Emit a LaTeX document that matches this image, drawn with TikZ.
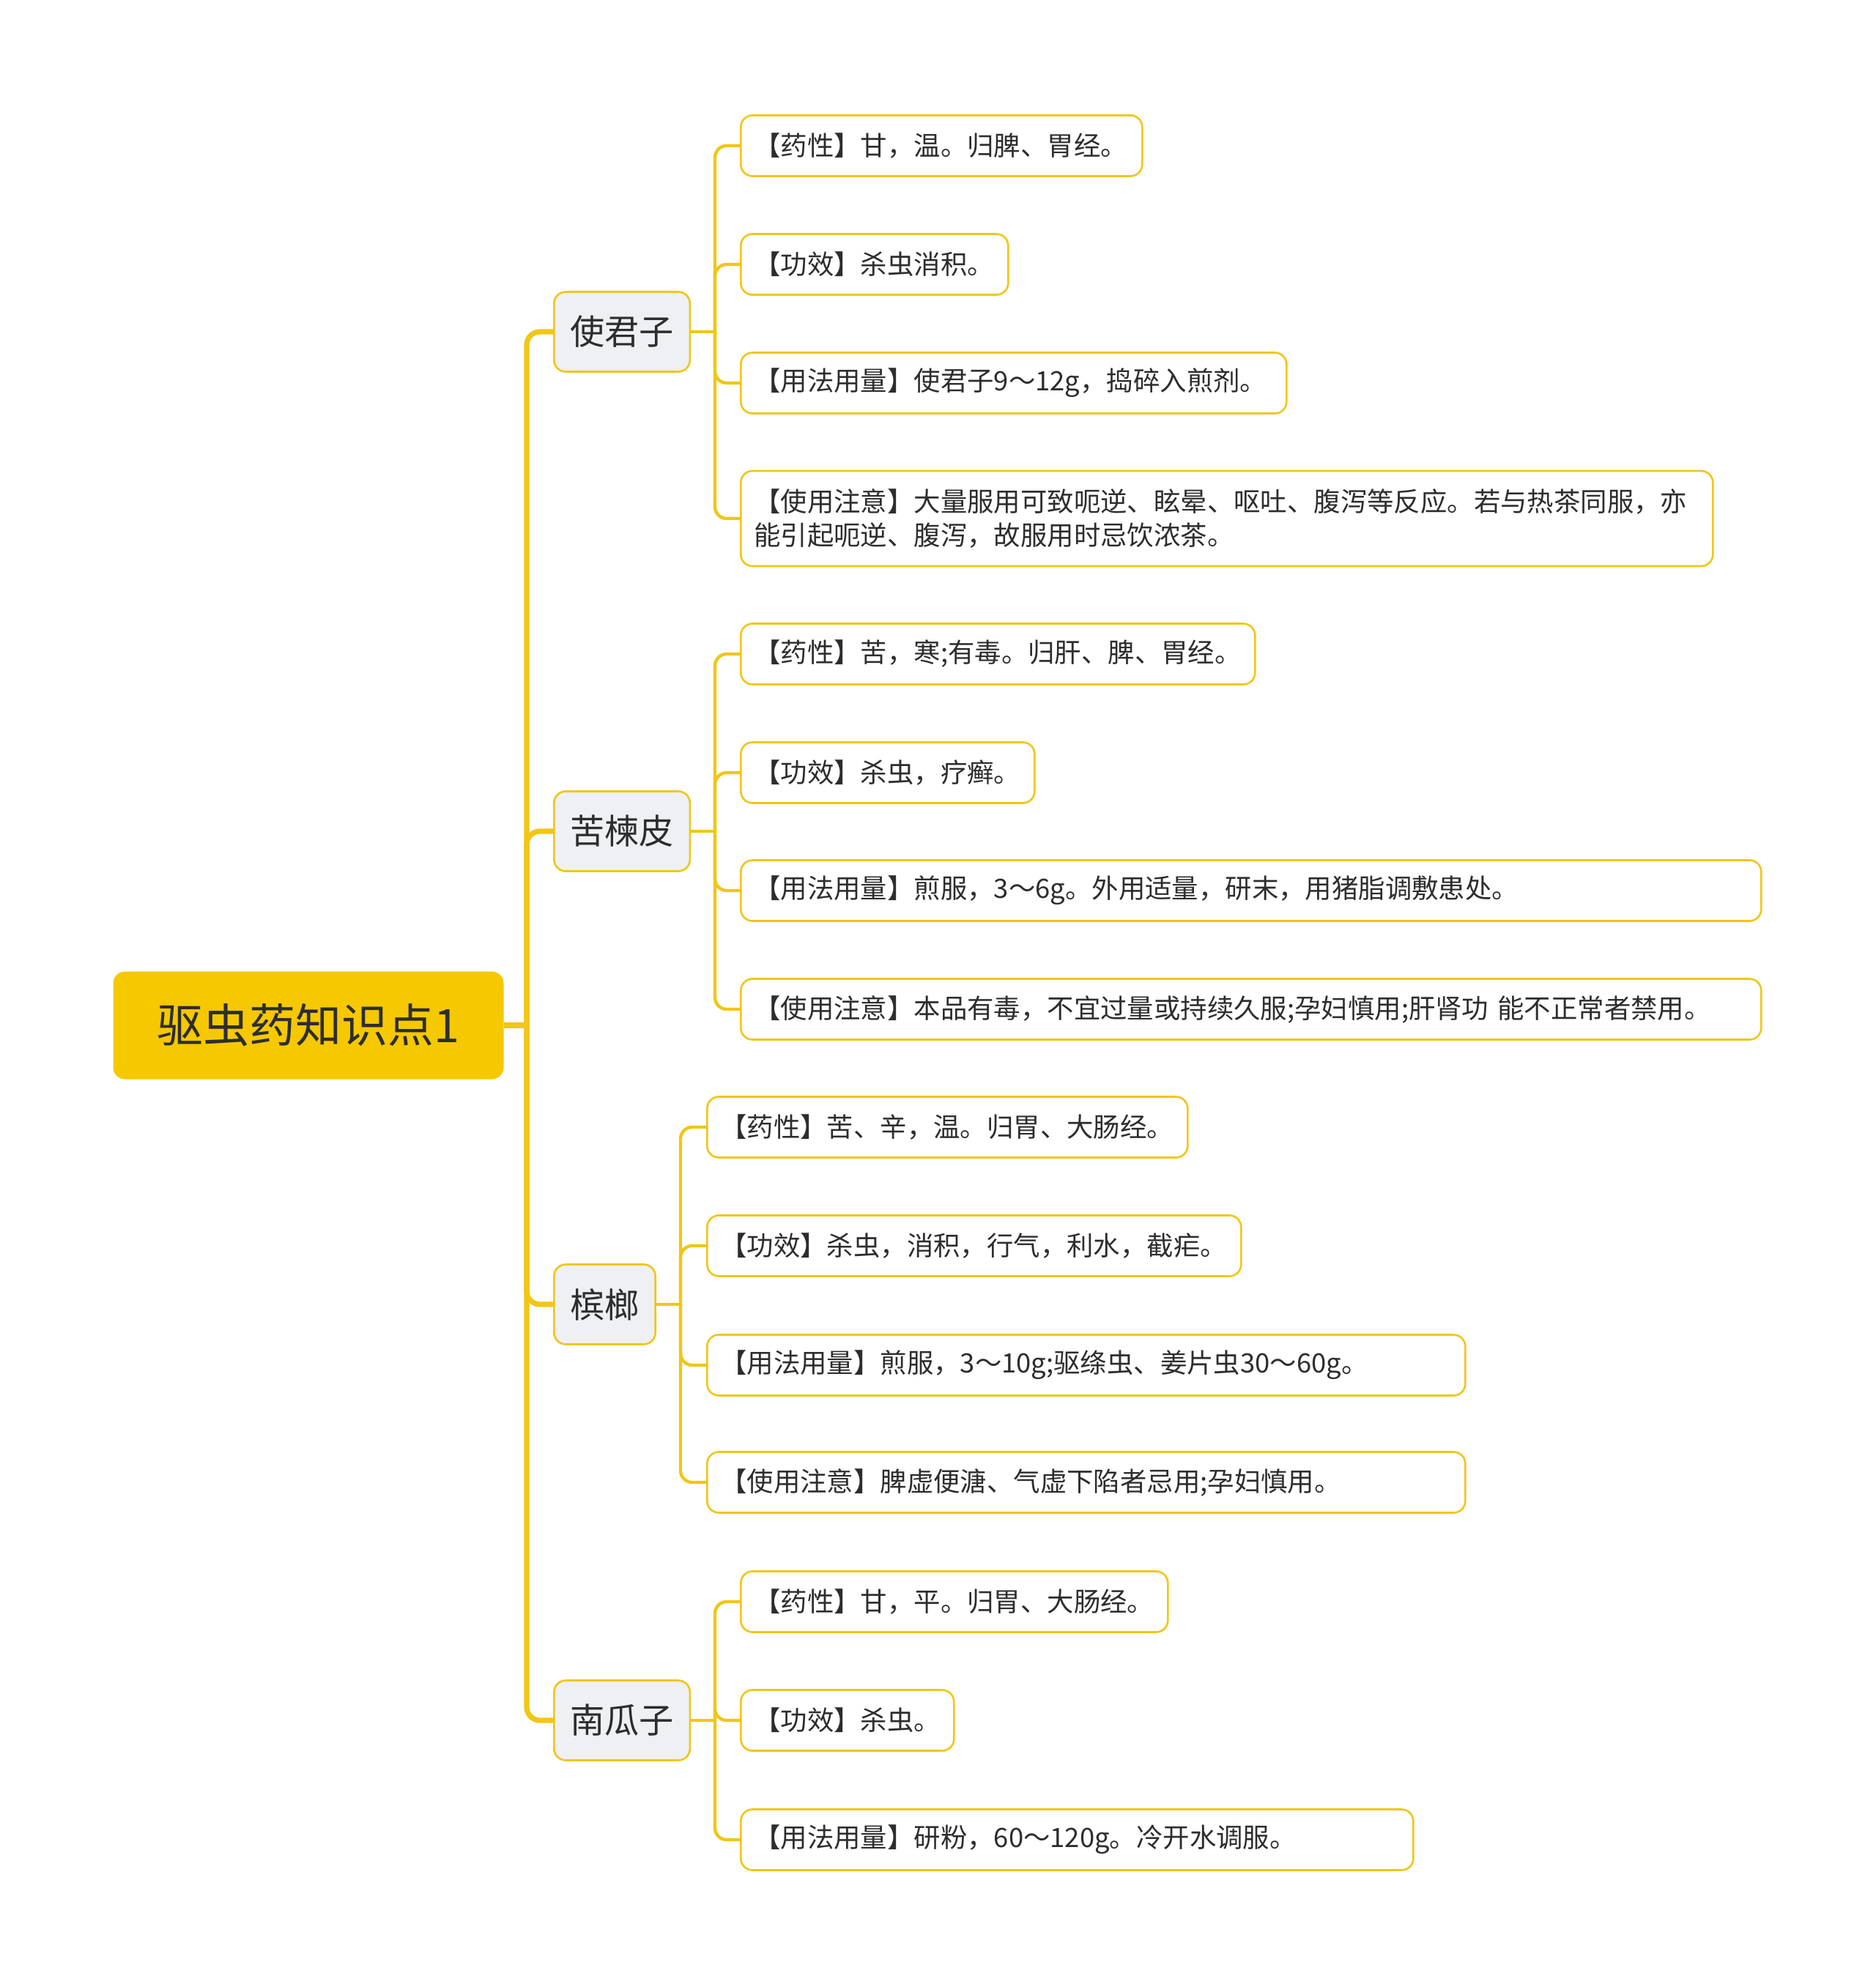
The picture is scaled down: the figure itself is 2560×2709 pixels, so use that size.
\documentclass[tikz,border=0pt]{standalone}
\usepackage{fontspec}
\setmainfont{Noto Sans CJK SC}
\usepackage{xcolor}
\definecolor{rootgold}{RGB}{245,200,0}
\definecolor{lineyellow}{RGB}{241,198,22}
\definecolor{branchgray}{RGB}{238,240,244}
\definecolor{inkdark}{RGB}{45,45,45}

\begin{document}
\begin{tikzpicture}[x=0.5pt,y=-0.5pt]
  \tikzstyle{root}=[rectangle, rounded corners=8pt, fill=rootgold, text=inkdark, minimum width=266.5pt, minimum height=73.5pt, font=\fontsize{31.5}{36}\selectfont]
  \tikzstyle{herb}=[rectangle, rounded corners=8pt, draw=lineyellow, line width=1.3pt, fill=branchgray, text=inkdark, anchor=west, inner xsep=11pt, minimum height=54.5pt, font=\fontsize{23.6}{28}\selectfont]
  \tikzstyle{fact}=[rectangle, rounded corners=8pt, draw=lineyellow, line width=1.3pt, fill=white, text=inkdark, anchor=west, inner xsep=9pt, minimum height=41.5pt, align=left, font=\fontsize{18.2}{23.3}\selectfont]
  \tikzstyle{trunk}=[draw=lineyellow, line width=3.6pt, rounded corners=9pt]
  \tikzstyle{twig}=[draw=lineyellow, line width=2.2pt, rounded corners=8pt]
  \useasboundingbox (0,0) rectangle (2560,2709);

  \node[root] (root) at (421,1400) {驱虫药知识点1};

  % herbs
  \node[herb] (sjz) at (755,453) {使君子};
  \node[herb] (klp) at (755,1135) {苦楝皮};
  \node[herb] (bl) at (755,1781) {槟榔};
  \node[herb] (ngz) at (755,2349) {南瓜子};

  % 使君子
  \node[fact, text width=256pt] (sjz1) at (1010,199) {【药性】甘，温。归脾、胃经。};
  \node[fact, text width=164.5pt] (sjz2) at (1010,361) {【功效】杀虫消积。};
  \node[fact, text width=354.5pt] (sjz3) at (1010,523) {【用法用量】使君子9～12g，捣碎入煎剂。};
  \node[fact, text width=645.5pt, minimum height=65pt] (sjz4) at (1010,708) {【使用注意】大量服用可致呃逆、眩晕、呕吐、腹泻等反应。若与热茶同服，亦\\能引起呃逆、腹泻，故服用时忌饮浓茶。};

  % 苦楝皮
  \node[fact, text width=333pt] (klp1) at (1010,893) {【药性】苦，寒;有毒。归肝、脾、胃经。};
  \node[fact, text width=182.5pt] (klp2) at (1010,1055) {【功效】杀虫，疗癣。};
  \node[fact, text width=678.5pt] (klp3) at (1010,1216) {【用法用量】煎服，3～6g。外用适量，研末，用猪脂调敷患处。};
  \node[fact, text width=678.5pt] (klp4) at (1010,1378) {【使用注意】本品有毒，不宜过量或持续久服;孕妇慎用;肝肾功 能不正常者禁用。};

  % 槟榔
  \node[fact, text width=310pt] (bl1) at (964,1539) {【药性】苦、辛，温。归胃、大肠经。};
  \node[fact, text width=346.5pt] (bl2) at (964,1701) {【功效】杀虫，消积，行气，利水，截疟。};
  \node[fact, text width=499.5pt] (bl3) at (964,1864) {【用法用量】煎服，3～10g;驱绦虫、姜片虫30～60g。};
  \node[fact, text width=499.5pt] (bl4) at (964,2024) {【使用注意】脾虚便溏、气虚下陷者忌用;孕妇慎用。};

  % 南瓜子
  \node[fact, text width=273.5pt] (ngz1) at (1010,2187) {【药性】甘，平。归胃、大肠经。};
  \node[fact, text width=127.5pt] (ngz2) at (1010,2349) {【功效】杀虫。};
  \node[fact, text width=441pt] (ngz3) at (1010,2512) {【用法用量】研粉，60～120g。冷开水调服。};

  % joints
  \coordinate (hub) at (719,1400);
  \coordinate (sjzj) at (976,453);
  \coordinate (klpj) at (976,1135);
  \coordinate (blj) at (929,1781);
  \coordinate (ngzj) at (976,2349);

  \draw[trunk] (root.east) -- (hub);
  \foreach \h in {sjz,klp,bl,ngz}
    \draw[trunk] (hub) |- (\h.west);

  \draw[twig] (sjz.east) -- (sjzj);
  \draw[twig] (klp.east) -- (klpj);
  \draw[twig] (bl.east) -- (blj);
  \draw[twig] (ngz.east) -- (ngzj);
  \foreach \i in {1,2,3,4} {
    \draw[twig] (sjzj) |- (sjz\i.west);
    \draw[twig] (klpj) |- (klp\i.west);
    \draw[twig] (blj) |- (bl\i.west);
  }
  \foreach \i in {1,2,3}
    \draw[twig] (ngzj) |- (ngz\i.west);
\end{tikzpicture}
\end{document}
